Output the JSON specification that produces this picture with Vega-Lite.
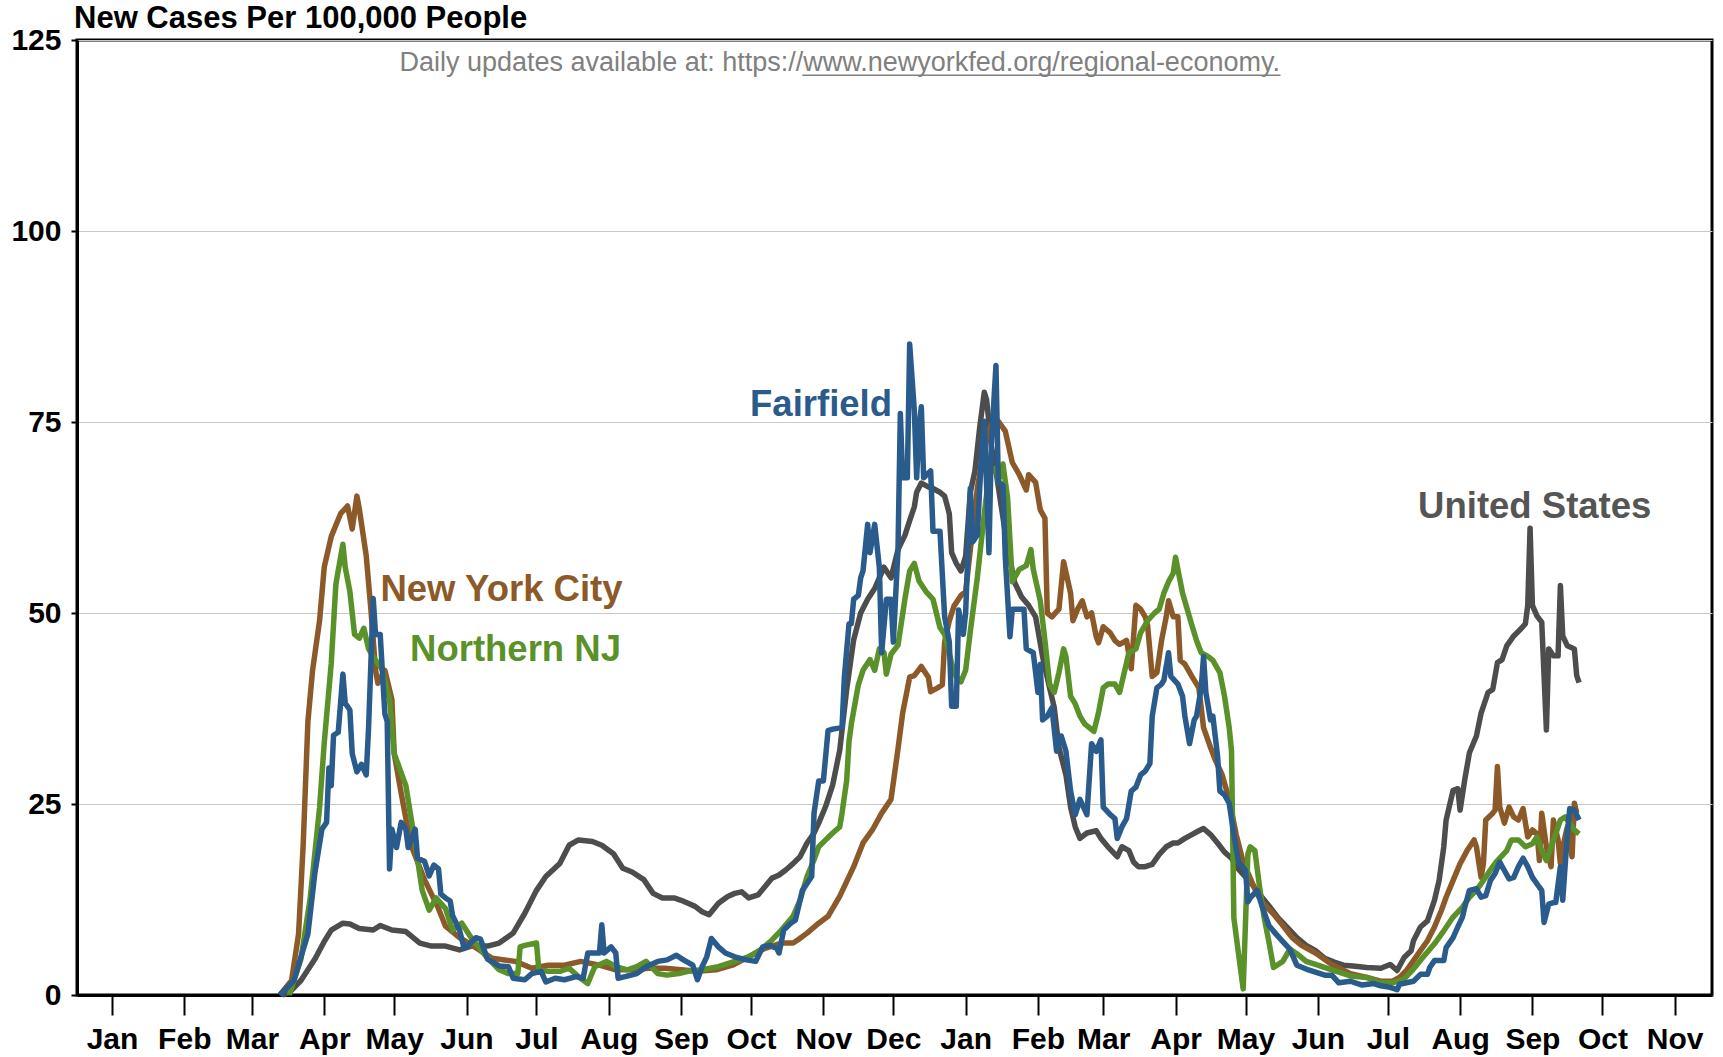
{
  "$schema": "https://vega.github.io/schema/vega-lite/v6.json",
  "width": 1635,
  "height": 955,
  "autosize": {"type": "none"},
  "padding": {"left": 77, "top": 40, "right": 11, "bottom": 62},
  "background": "white",
  "title": {"text": "New Cases Per 100,000 People", "anchor": "start", "frame": "group", "font": "Liberation Sans", "fontSize": 31, "fontWeight": "bold", "color": "black", "offset": -10, "dx": -3},
  "config": {
    "view": {"stroke": "black", "strokeWidth": 3},
    "axis": {"labelFont": "Liberation Sans", "labelFontWeight": "bold", "labelColor": "black", "domainColor": "black", "domainWidth": 3, "tickColor": "black", "tickWidth": 2, "title": null}
  },
  "data": {"values": [
    {"s":"US","d":"2020-03-14","v":0},{"s":"US","d":"2020-03-17","v":0.3},{"s":"US","d":"2020-03-22","v":1.9},{"s":"US","d":"2020-03-28","v":4.7},{"s":"US","d":"2020-04-01","v":7},{"s":"US","d":"2020-04-04","v":8.5},{"s":"US","d":"2020-04-09","v":9.4},{"s":"US","d":"2020-04-12","v":9.3},{"s":"US","d":"2020-04-16","v":8.7},{"s":"US","d":"2020-04-22","v":8.5},{"s":"US","d":"2020-04-25","v":9.1},{"s":"US","d":"2020-04-30","v":8.5},{"s":"US","d":"2020-05-06","v":8.3},{"s":"US","d":"2020-05-12","v":6.8},{"s":"US","d":"2020-05-17","v":6.4},{"s":"US","d":"2020-05-23","v":6.4},{"s":"US","d":"2020-05-29","v":5.9},{"s":"US","d":"2020-06-03","v":6.4},{"s":"US","d":"2020-06-10","v":6.4},{"s":"US","d":"2020-06-15","v":6.8},{"s":"US","d":"2020-06-21","v":8.1},{"s":"US","d":"2020-06-26","v":10.7},{"s":"US","d":"2020-07-01","v":13.7},{"s":"US","d":"2020-07-05","v":15.5},{"s":"US","d":"2020-07-11","v":17.2},{"s":"US","d":"2020-07-15","v":19.6},{"s":"US","d":"2020-07-19","v":20.3},{"s":"US","d":"2020-07-25","v":20.1},{"s":"US","d":"2020-07-29","v":19.6},{"s":"US","d":"2020-08-03","v":18.5},{"s":"US","d":"2020-08-07","v":16.6},{"s":"US","d":"2020-08-11","v":16.1},{"s":"US","d":"2020-08-16","v":15.1},{"s":"US","d":"2020-08-20","v":13.3},{"s":"US","d":"2020-08-24","v":12.7},{"s":"US","d":"2020-08-29","v":12.7},{"s":"US","d":"2020-09-01","v":12.4},{"s":"US","d":"2020-09-04","v":12},{"s":"US","d":"2020-09-07","v":11.6},{"s":"US","d":"2020-09-10","v":10.9},{"s":"US","d":"2020-09-13","v":10.5},{"s":"US","d":"2020-09-17","v":12},{"s":"US","d":"2020-09-21","v":12.9},{"s":"US","d":"2020-09-24","v":13.3},{"s":"US","d":"2020-09-27","v":13.5},{"s":"US","d":"2020-09-30","v":12.7},{"s":"US","d":"2020-10-04","v":13.1},{"s":"US","d":"2020-10-07","v":14.2},{"s":"US","d":"2020-10-10","v":15.3},{"s":"US","d":"2020-10-13","v":15.7},{"s":"US","d":"2020-10-16","v":16.4},{"s":"US","d":"2020-10-19","v":17.2},{"s":"US","d":"2020-10-22","v":18.1},{"s":"US","d":"2020-10-25","v":19.9},{"s":"US","d":"2020-10-28","v":21.2},{"s":"US","d":"2020-10-30","v":22.5},{"s":"US","d":"2020-11-02","v":24.7},{"s":"US","d":"2020-11-05","v":27.5},{"s":"US","d":"2020-11-08","v":32},{"s":"US","d":"2020-11-11","v":40},{"s":"US","d":"2020-11-14","v":46.5},{"s":"US","d":"2020-11-17","v":50},{"s":"US","d":"2020-11-20","v":51.8},{"s":"US","d":"2020-11-23","v":53.2},{"s":"US","d":"2020-11-27","v":56},{"s":"US","d":"2020-11-30","v":54.6},{"s":"US","d":"2020-12-03","v":58.3},{"s":"US","d":"2020-12-06","v":60.2},{"s":"US","d":"2020-12-08","v":62.1},{"s":"US","d":"2020-12-10","v":63.9},{"s":"US","d":"2020-12-11","v":65.8},{"s":"US","d":"2020-12-13","v":67},{"s":"US","d":"2020-12-16","v":66.5},{"s":"US","d":"2020-12-18","v":66.3},{"s":"US","d":"2020-12-21","v":65.8},{"s":"US","d":"2020-12-23","v":65.3},{"s":"US","d":"2020-12-25","v":63},{"s":"US","d":"2020-12-26","v":57.9},{"s":"US","d":"2020-12-28","v":56.5},{"s":"US","d":"2020-12-30","v":55.5},{"s":"US","d":"2021-01-01","v":57.4},{"s":"US","d":"2021-01-03","v":65.8},{"s":"US","d":"2021-01-05","v":68.6},{"s":"US","d":"2021-01-07","v":74.2},{"s":"US","d":"2021-01-09","v":78.9},{"s":"US","d":"2021-01-10","v":77.9},{"s":"US","d":"2021-01-12","v":71.9},{"s":"US","d":"2021-01-14","v":68.6},{"s":"US","d":"2021-01-16","v":64.5},{"s":"US","d":"2021-01-19","v":58.5},{"s":"US","d":"2021-01-22","v":54},{"s":"US","d":"2021-01-25","v":52.1},{"s":"US","d":"2021-01-28","v":51},{"s":"US","d":"2021-01-31","v":49.5},{"s":"US","d":"2021-02-03","v":44.3},{"s":"US","d":"2021-02-06","v":40.2},{"s":"US","d":"2021-02-08","v":37.6},{"s":"US","d":"2021-02-10","v":32.4},{"s":"US","d":"2021-02-13","v":28.8},{"s":"US","d":"2021-02-15","v":24.6},{"s":"US","d":"2021-02-17","v":22},{"s":"US","d":"2021-02-19","v":20.5},{"s":"US","d":"2021-02-22","v":21.2},{"s":"US","d":"2021-02-26","v":21.5},{"s":"US","d":"2021-02-28","v":20.5},{"s":"US","d":"2021-03-03","v":19.4},{"s":"US","d":"2021-03-07","v":18.1},{"s":"US","d":"2021-03-09","v":19.4},{"s":"US","d":"2021-03-12","v":18.9},{"s":"US","d":"2021-03-14","v":17.4},{"s":"US","d":"2021-03-16","v":16.8},{"s":"US","d":"2021-03-19","v":16.8},{"s":"US","d":"2021-03-22","v":17.1},{"s":"US","d":"2021-03-25","v":18.4},{"s":"US","d":"2021-03-28","v":19.4},{"s":"US","d":"2021-03-31","v":19.9},{"s":"US","d":"2021-04-02","v":19.9},{"s":"US","d":"2021-04-05","v":20.5},{"s":"US","d":"2021-04-08","v":21},{"s":"US","d":"2021-04-11","v":21.5},{"s":"US","d":"2021-04-13","v":21.8},{"s":"US","d":"2021-04-16","v":21},{"s":"US","d":"2021-04-19","v":19.9},{"s":"US","d":"2021-04-22","v":18.7},{"s":"US","d":"2021-04-25","v":17.9},{"s":"US","d":"2021-04-27","v":16.8},{"s":"US","d":"2021-04-30","v":15.8},{"s":"US","d":"2021-05-03","v":14.8},{"s":"US","d":"2021-05-07","v":13.2},{"s":"US","d":"2021-05-11","v":11.7},{"s":"US","d":"2021-05-15","v":10.1},{"s":"US","d":"2021-05-20","v":8.5},{"s":"US","d":"2021-05-23","v":7.5},{"s":"US","d":"2021-05-27","v":6.5},{"s":"US","d":"2021-05-31","v":5.8},{"s":"US","d":"2021-06-04","v":4.8},{"s":"US","d":"2021-06-08","v":4.3},{"s":"US","d":"2021-06-12","v":3.9},{"s":"US","d":"2021-06-16","v":3.8},{"s":"US","d":"2021-06-22","v":3.6},{"s":"US","d":"2021-06-28","v":3.5},{"s":"US","d":"2021-07-02","v":4},{"s":"US","d":"2021-07-05","v":3.2},{"s":"US","d":"2021-07-08","v":4.9},{"s":"US","d":"2021-07-11","v":5.8},{"s":"US","d":"2021-07-12","v":7.1},{"s":"US","d":"2021-07-15","v":8.9},{"s":"US","d":"2021-07-18","v":9.7},{"s":"US","d":"2021-07-21","v":12.4},{"s":"US","d":"2021-07-23","v":15},{"s":"US","d":"2021-07-25","v":19.4},{"s":"US","d":"2021-07-26","v":22.9},{"s":"US","d":"2021-07-29","v":26.8},{"s":"US","d":"2021-07-31","v":27},{"s":"US","d":"2021-08-01","v":24.2},{"s":"US","d":"2021-08-03","v":28.2},{"s":"US","d":"2021-08-05","v":31.7},{"s":"US","d":"2021-08-08","v":33.9},{"s":"US","d":"2021-08-10","v":36.9},{"s":"US","d":"2021-08-13","v":39.6},{"s":"US","d":"2021-08-15","v":40},{"s":"US","d":"2021-08-17","v":43.5},{"s":"US","d":"2021-08-19","v":43.9},{"s":"US","d":"2021-08-21","v":45.7},{"s":"US","d":"2021-08-24","v":47},{"s":"US","d":"2021-08-27","v":47.9},{"s":"US","d":"2021-08-29","v":48.6},{"s":"US","d":"2021-08-30","v":51},{"s":"US","d":"2021-08-31","v":61.1},{"s":"US","d":"2021-09-01","v":51},{"s":"US","d":"2021-09-03","v":49.6},{"s":"US","d":"2021-09-05","v":48.8},{"s":"US","d":"2021-09-07","v":34.7},{"s":"US","d":"2021-09-08","v":45.3},{"s":"US","d":"2021-09-10","v":44.4},{"s":"US","d":"2021-09-12","v":44.4},{"s":"US","d":"2021-09-13","v":53.6},{"s":"US","d":"2021-09-14","v":47},{"s":"US","d":"2021-09-16","v":45.7},{"s":"US","d":"2021-09-19","v":45.3},{"s":"US","d":"2021-09-20","v":41.8},{"s":"US","d":"2021-09-21","v":40.9},

    {"s":"NYC","d":"2020-03-13","v":0},{"s":"NYC","d":"2020-03-18","v":1.9},{"s":"NYC","d":"2020-03-21","v":8},{"s":"NYC","d":"2020-03-23","v":19.8},{"s":"NYC","d":"2020-03-25","v":35.8},{"s":"NYC","d":"2020-03-27","v":42.5},{"s":"NYC","d":"2020-03-30","v":49},{"s":"NYC","d":"2020-04-01","v":56},{"s":"NYC","d":"2020-04-04","v":60},{"s":"NYC","d":"2020-04-08","v":63},{"s":"NYC","d":"2020-04-11","v":64},{"s":"NYC","d":"2020-04-13","v":61},{"s":"NYC","d":"2020-04-15","v":65.3},{"s":"NYC","d":"2020-04-16","v":63.7},{"s":"NYC","d":"2020-04-19","v":57.5},{"s":"NYC","d":"2020-04-21","v":50.5},{"s":"NYC","d":"2020-04-23","v":42.5},{"s":"NYC","d":"2020-04-24","v":40.8},{"s":"NYC","d":"2020-04-27","v":42.5},{"s":"NYC","d":"2020-04-30","v":38.7},{"s":"NYC","d":"2020-05-01","v":31.6},{"s":"NYC","d":"2020-05-04","v":26.4},{"s":"NYC","d":"2020-05-08","v":19.8},{"s":"NYC","d":"2020-05-14","v":15.1},{"s":"NYC","d":"2020-05-20","v":11.3},{"s":"NYC","d":"2020-05-23","v":9},{"s":"NYC","d":"2020-05-29","v":7.5},{"s":"NYC","d":"2020-06-03","v":6.6},{"s":"NYC","d":"2020-06-12","v":4.8},{"s":"NYC","d":"2020-06-22","v":4.4},{"s":"NYC","d":"2020-06-29","v":3.5},{"s":"NYC","d":"2020-07-06","v":3.9},{"s":"NYC","d":"2020-07-13","v":3.9},{"s":"NYC","d":"2020-07-20","v":4.4},{"s":"NYC","d":"2020-07-28","v":3.9},{"s":"NYC","d":"2020-08-04","v":3.3},{"s":"NYC","d":"2020-08-11","v":3.3},{"s":"NYC","d":"2020-08-18","v":3.5},{"s":"NYC","d":"2020-08-25","v":3.5},{"s":"NYC","d":"2020-09-01","v":3.3},{"s":"NYC","d":"2020-09-08","v":3.1},{"s":"NYC","d":"2020-09-16","v":3.3},{"s":"NYC","d":"2020-09-23","v":3.9},{"s":"NYC","d":"2020-09-30","v":5},{"s":"NYC","d":"2020-10-07","v":6.1},{"s":"NYC","d":"2020-10-14","v":6.8},{"s":"NYC","d":"2020-10-19","v":6.8},{"s":"NYC","d":"2020-10-21","v":7.2},{"s":"NYC","d":"2020-10-25","v":8.1},{"s":"NYC","d":"2020-10-30","v":9.4},{"s":"NYC","d":"2020-11-03","v":10.3},{"s":"NYC","d":"2020-11-08","v":12.9},{"s":"NYC","d":"2020-11-14","v":16.8},{"s":"NYC","d":"2020-11-18","v":19.9},{"s":"NYC","d":"2020-11-22","v":21.6},{"s":"NYC","d":"2020-11-26","v":23.8},{"s":"NYC","d":"2020-11-30","v":25.6},{"s":"NYC","d":"2020-12-03","v":32.2},{"s":"NYC","d":"2020-12-05","v":36.9},{"s":"NYC","d":"2020-12-08","v":41.6},{"s":"NYC","d":"2020-12-10","v":41.8},{"s":"NYC","d":"2020-12-13","v":43},{"s":"NYC","d":"2020-12-16","v":41.6},{"s":"NYC","d":"2020-12-17","v":39.7},{"s":"NYC","d":"2020-12-20","v":40.2},{"s":"NYC","d":"2020-12-22","v":40.6},{"s":"NYC","d":"2020-12-23","v":46.2},{"s":"NYC","d":"2020-12-25","v":49},{"s":"NYC","d":"2020-12-27","v":50.9},{"s":"NYC","d":"2020-12-30","v":52.3},{"s":"NYC","d":"2021-01-01","v":52.8},{"s":"NYC","d":"2021-01-03","v":58.3},{"s":"NYC","d":"2021-01-06","v":66.3},{"s":"NYC","d":"2021-01-09","v":71.9},{"s":"NYC","d":"2021-01-12","v":74.7},{"s":"NYC","d":"2021-01-15","v":75.1},{"s":"NYC","d":"2021-01-18","v":73.8},{"s":"NYC","d":"2021-01-21","v":69.7},{"s":"NYC","d":"2021-01-24","v":68.1},{"s":"NYC","d":"2021-01-27","v":66.1},{"s":"NYC","d":"2021-01-28","v":68.1},{"s":"NYC","d":"2021-01-31","v":67.1},{"s":"NYC","d":"2021-02-02","v":63.5},{"s":"NYC","d":"2021-02-04","v":62.4},{"s":"NYC","d":"2021-02-05","v":50},{"s":"NYC","d":"2021-02-07","v":49.5},{"s":"NYC","d":"2021-02-10","v":50.5},{"s":"NYC","d":"2021-02-12","v":56.7},{"s":"NYC","d":"2021-02-15","v":52.6},{"s":"NYC","d":"2021-02-16","v":49},{"s":"NYC","d":"2021-02-18","v":50.5},{"s":"NYC","d":"2021-02-20","v":51.6},{"s":"NYC","d":"2021-02-22","v":49.5},{"s":"NYC","d":"2021-02-24","v":50},{"s":"NYC","d":"2021-02-26","v":46.9},{"s":"NYC","d":"2021-02-27","v":46.1},{"s":"NYC","d":"2021-03-01","v":48.2},{"s":"NYC","d":"2021-03-04","v":47.4},{"s":"NYC","d":"2021-03-06","v":46.4},{"s":"NYC","d":"2021-03-08","v":45.9},{"s":"NYC","d":"2021-03-11","v":46.4},{"s":"NYC","d":"2021-03-13","v":42.7},{"s":"NYC","d":"2021-03-15","v":51},{"s":"NYC","d":"2021-03-17","v":50.5},{"s":"NYC","d":"2021-03-19","v":49.5},{"s":"NYC","d":"2021-03-20","v":48.4},{"s":"NYC","d":"2021-03-22","v":41.7},{"s":"NYC","d":"2021-03-24","v":42.2},{"s":"NYC","d":"2021-03-26","v":46.4},{"s":"NYC","d":"2021-03-28","v":49.5},{"s":"NYC","d":"2021-03-29","v":51.6},{"s":"NYC","d":"2021-03-31","v":49.5},{"s":"NYC","d":"2021-04-02","v":49.5},{"s":"NYC","d":"2021-04-03","v":43.8},{"s":"NYC","d":"2021-04-05","v":43.3},{"s":"NYC","d":"2021-04-08","v":41.7},{"s":"NYC","d":"2021-04-11","v":40.2},{"s":"NYC","d":"2021-04-13","v":35},{"s":"NYC","d":"2021-04-16","v":32.4},{"s":"NYC","d":"2021-04-18","v":30.8},{"s":"NYC","d":"2021-04-21","v":28.8},{"s":"NYC","d":"2021-04-24","v":25.6},{"s":"NYC","d":"2021-04-27","v":21},{"s":"NYC","d":"2021-04-30","v":17.4},{"s":"NYC","d":"2021-05-03","v":15.3},{"s":"NYC","d":"2021-05-06","v":13.2},{"s":"NYC","d":"2021-05-08","v":12.2},{"s":"NYC","d":"2021-05-13","v":10.6},{"s":"NYC","d":"2021-05-17","v":9.1},{"s":"NYC","d":"2021-05-21","v":7.5},{"s":"NYC","d":"2021-05-25","v":6.5},{"s":"NYC","d":"2021-05-31","v":5.5},{"s":"NYC","d":"2021-06-07","v":4},{"s":"NYC","d":"2021-06-15","v":2.8},{"s":"NYC","d":"2021-06-22","v":2.3},{"s":"NYC","d":"2021-06-28","v":1.8},{"s":"NYC","d":"2021-07-03","v":1.8},{"s":"NYC","d":"2021-07-06","v":2.3},{"s":"NYC","d":"2021-07-09","v":3.2},{"s":"NYC","d":"2021-07-12","v":4.5},{"s":"NYC","d":"2021-07-15","v":5.8},{"s":"NYC","d":"2021-07-18","v":7.1},{"s":"NYC","d":"2021-07-21","v":8.9},{"s":"NYC","d":"2021-07-24","v":11.1},{"s":"NYC","d":"2021-07-26","v":12.8},{"s":"NYC","d":"2021-07-29","v":15},{"s":"NYC","d":"2021-08-01","v":17.2},{"s":"NYC","d":"2021-08-04","v":18.9},{"s":"NYC","d":"2021-08-07","v":20.3},{"s":"NYC","d":"2021-08-08","v":19.4},{"s":"NYC","d":"2021-08-10","v":15.4},{"s":"NYC","d":"2021-08-11","v":17.2},{"s":"NYC","d":"2021-08-12","v":22.9},{"s":"NYC","d":"2021-08-15","v":23.8},{"s":"NYC","d":"2021-08-16","v":24.2},{"s":"NYC","d":"2021-08-17","v":29.9},{"s":"NYC","d":"2021-08-18","v":24.6},{"s":"NYC","d":"2021-08-20","v":22.5},{"s":"NYC","d":"2021-08-22","v":24.6},{"s":"NYC","d":"2021-08-24","v":23.3},{"s":"NYC","d":"2021-08-26","v":22.9},{"s":"NYC","d":"2021-08-28","v":24.4},{"s":"NYC","d":"2021-08-30","v":20.7},{"s":"NYC","d":"2021-09-01","v":21.6},{"s":"NYC","d":"2021-09-03","v":21.1},{"s":"NYC","d":"2021-09-04","v":17.6},{"s":"NYC","d":"2021-09-05","v":23.8},{"s":"NYC","d":"2021-09-07","v":19.4},{"s":"NYC","d":"2021-09-09","v":16.8},{"s":"NYC","d":"2021-09-10","v":22.9},{"s":"NYC","d":"2021-09-12","v":20.3},{"s":"NYC","d":"2021-09-13","v":17.2},{"s":"NYC","d":"2021-09-14","v":19.4},{"s":"NYC","d":"2021-09-16","v":22},{"s":"NYC","d":"2021-09-18","v":18.1},{"s":"NYC","d":"2021-09-19","v":25.1},{"s":"NYC","d":"2021-09-20","v":23.8},

    {"s":"NJ","d":"2020-03-17","v":0},{"s":"NJ","d":"2020-03-22","v":4.7},{"s":"NJ","d":"2020-03-26","v":12.7},{"s":"NJ","d":"2020-03-30","v":24.5},{"s":"NJ","d":"2020-04-01","v":33},{"s":"NJ","d":"2020-04-04","v":43.4},{"s":"NJ","d":"2020-04-06","v":53.8},{"s":"NJ","d":"2020-04-09","v":59},{"s":"NJ","d":"2020-04-10","v":56},{"s":"NJ","d":"2020-04-12","v":52.8},{"s":"NJ","d":"2020-04-14","v":47.2},{"s":"NJ","d":"2020-04-16","v":46.7},{"s":"NJ","d":"2020-04-18","v":48},{"s":"NJ","d":"2020-04-20","v":45.3},{"s":"NJ","d":"2020-04-22","v":44.3},{"s":"NJ","d":"2020-04-26","v":42.5},{"s":"NJ","d":"2020-04-29","v":38.7},{"s":"NJ","d":"2020-05-01","v":31.6},{"s":"NJ","d":"2020-05-06","v":27.4},{"s":"NJ","d":"2020-05-10","v":19.8},{"s":"NJ","d":"2020-05-13","v":13.7},{"s":"NJ","d":"2020-05-16","v":11.1},{"s":"NJ","d":"2020-05-19","v":12.7},{"s":"NJ","d":"2020-05-23","v":11.3},{"s":"NJ","d":"2020-05-26","v":8.5},{"s":"NJ","d":"2020-05-30","v":9.4},{"s":"NJ","d":"2020-06-03","v":7.5},{"s":"NJ","d":"2020-06-09","v":5.2},{"s":"NJ","d":"2020-06-15","v":3.3},{"s":"NJ","d":"2020-06-19","v":2.8},{"s":"NJ","d":"2020-06-23","v":2.8},{"s":"NJ","d":"2020-06-24","v":6.3},{"s":"NJ","d":"2020-06-26","v":6.5},{"s":"NJ","d":"2020-07-01","v":6.8},{"s":"NJ","d":"2020-07-02","v":3.3},{"s":"NJ","d":"2020-07-06","v":3.1},{"s":"NJ","d":"2020-07-11","v":3.1},{"s":"NJ","d":"2020-07-15","v":3.5},{"s":"NJ","d":"2020-07-19","v":2.4},{"s":"NJ","d":"2020-07-23","v":1.5},{"s":"NJ","d":"2020-07-26","v":3.7},{"s":"NJ","d":"2020-07-31","v":4.4},{"s":"NJ","d":"2020-08-04","v":3.7},{"s":"NJ","d":"2020-08-09","v":3.3},{"s":"NJ","d":"2020-08-13","v":3.7},{"s":"NJ","d":"2020-08-17","v":4.4},{"s":"NJ","d":"2020-08-22","v":2.8},{"s":"NJ","d":"2020-08-26","v":2.6},{"s":"NJ","d":"2020-08-31","v":2.8},{"s":"NJ","d":"2020-09-04","v":3.1},{"s":"NJ","d":"2020-09-10","v":3.3},{"s":"NJ","d":"2020-09-17","v":3.7},{"s":"NJ","d":"2020-09-24","v":4.4},{"s":"NJ","d":"2020-09-30","v":5},{"s":"NJ","d":"2020-10-05","v":5.9},{"s":"NJ","d":"2020-10-10","v":7.2},{"s":"NJ","d":"2020-10-14","v":8.5},{"s":"NJ","d":"2020-10-19","v":10.3},{"s":"NJ","d":"2020-10-22","v":12.4},{"s":"NJ","d":"2020-10-25","v":15.5},{"s":"NJ","d":"2020-10-28","v":17.7},{"s":"NJ","d":"2020-10-30","v":19.4},{"s":"NJ","d":"2020-11-02","v":20.3},{"s":"NJ","d":"2020-11-05","v":21.2},{"s":"NJ","d":"2020-11-08","v":22},{"s":"NJ","d":"2020-11-09","v":23.8},{"s":"NJ","d":"2020-11-11","v":28.1},{"s":"NJ","d":"2020-11-12","v":33.2},{"s":"NJ","d":"2020-11-13","v":35.5},{"s":"NJ","d":"2020-11-16","v":40.6},{"s":"NJ","d":"2020-11-18","v":42.5},{"s":"NJ","d":"2020-11-21","v":43.9},{"s":"NJ","d":"2020-11-23","v":42.5},{"s":"NJ","d":"2020-11-25","v":45.3},{"s":"NJ","d":"2020-11-27","v":44.8},{"s":"NJ","d":"2020-11-28","v":42},{"s":"NJ","d":"2020-11-30","v":44.6},{"s":"NJ","d":"2020-12-03","v":45.8},{"s":"NJ","d":"2020-12-06","v":51.9},{"s":"NJ","d":"2020-12-08","v":55.5},{"s":"NJ","d":"2020-12-10","v":56.5},{"s":"NJ","d":"2020-12-12","v":54.2},{"s":"NJ","d":"2020-12-15","v":52.8},{"s":"NJ","d":"2020-12-18","v":51.8},{"s":"NJ","d":"2020-12-21","v":48.1},{"s":"NJ","d":"2020-12-23","v":47.2},{"s":"NJ","d":"2020-12-26","v":43.4},{"s":"NJ","d":"2020-12-28","v":41.6},{"s":"NJ","d":"2020-12-30","v":41},{"s":"NJ","d":"2021-01-01","v":42.5},{"s":"NJ","d":"2021-01-03","v":47.6},{"s":"NJ","d":"2021-01-06","v":54.6},{"s":"NJ","d":"2021-01-09","v":63},{"s":"NJ","d":"2021-01-11","v":68.1},{"s":"NJ","d":"2021-01-14","v":69},{"s":"NJ","d":"2021-01-15","v":67.2},{"s":"NJ","d":"2021-01-17","v":69.5},{"s":"NJ","d":"2021-01-19","v":65},{"s":"NJ","d":"2021-01-21","v":54.1},{"s":"NJ","d":"2021-01-24","v":55.7},{"s":"NJ","d":"2021-01-27","v":56.2},{"s":"NJ","d":"2021-01-29","v":58.3},{"s":"NJ","d":"2021-01-30","v":55.7},{"s":"NJ","d":"2021-02-02","v":51.6},{"s":"NJ","d":"2021-02-04","v":46.4},{"s":"NJ","d":"2021-02-06","v":40.7},{"s":"NJ","d":"2021-02-08","v":39.6},{"s":"NJ","d":"2021-02-10","v":42.2},{"s":"NJ","d":"2021-02-12","v":45.3},{"s":"NJ","d":"2021-02-13","v":44.3},{"s":"NJ","d":"2021-02-15","v":39.1},{"s":"NJ","d":"2021-02-17","v":38.1},{"s":"NJ","d":"2021-02-19","v":36.5},{"s":"NJ","d":"2021-02-21","v":35.5},{"s":"NJ","d":"2021-02-23","v":35},{"s":"NJ","d":"2021-02-25","v":34.5},{"s":"NJ","d":"2021-02-27","v":37},{"s":"NJ","d":"2021-03-01","v":40.2},{"s":"NJ","d":"2021-03-03","v":40.7},{"s":"NJ","d":"2021-03-06","v":40.7},{"s":"NJ","d":"2021-03-08","v":39.6},{"s":"NJ","d":"2021-03-10","v":42.2},{"s":"NJ","d":"2021-03-12","v":44.8},{"s":"NJ","d":"2021-03-15","v":45.3},{"s":"NJ","d":"2021-03-17","v":47.4},{"s":"NJ","d":"2021-03-20","v":49},{"s":"NJ","d":"2021-03-23","v":50},{"s":"NJ","d":"2021-03-25","v":50.5},{"s":"NJ","d":"2021-03-27","v":52.6},{"s":"NJ","d":"2021-03-29","v":54.1},{"s":"NJ","d":"2021-03-31","v":55.2},{"s":"NJ","d":"2021-04-01","v":57.3},{"s":"NJ","d":"2021-04-02","v":55.7},{"s":"NJ","d":"2021-04-04","v":52.6},{"s":"NJ","d":"2021-04-06","v":50.5},{"s":"NJ","d":"2021-04-08","v":48.4},{"s":"NJ","d":"2021-04-10","v":46.4},{"s":"NJ","d":"2021-04-12","v":44.8},{"s":"NJ","d":"2021-04-15","v":44.3},{"s":"NJ","d":"2021-04-17","v":43.8},{"s":"NJ","d":"2021-04-20","v":42.2},{"s":"NJ","d":"2021-04-22","v":39.1},{"s":"NJ","d":"2021-04-24","v":35},{"s":"NJ","d":"2021-04-25","v":31.9},{"s":"NJ","d":"2021-04-26","v":10.1},{"s":"NJ","d":"2021-04-28","v":5.4},{"s":"NJ","d":"2021-04-30","v":0.8},{"s":"NJ","d":"2021-05-02","v":18.4},{"s":"NJ","d":"2021-05-03","v":19.4},{"s":"NJ","d":"2021-05-05","v":18.9},{"s":"NJ","d":"2021-05-07","v":14.2},{"s":"NJ","d":"2021-05-09","v":10.1},{"s":"NJ","d":"2021-05-11","v":7},{"s":"NJ","d":"2021-05-13","v":3.6},{"s":"NJ","d":"2021-05-17","v":4.4},{"s":"NJ","d":"2021-05-20","v":6},{"s":"NJ","d":"2021-05-23","v":5.4},{"s":"NJ","d":"2021-05-27","v":4.4},{"s":"NJ","d":"2021-05-31","v":4},{"s":"NJ","d":"2021-06-07","v":3.3},{"s":"NJ","d":"2021-06-15","v":2.5},{"s":"NJ","d":"2021-06-22","v":2.3},{"s":"NJ","d":"2021-06-28","v":1.6},{"s":"NJ","d":"2021-07-03","v":1.6},{"s":"NJ","d":"2021-07-08","v":2.1},{"s":"NJ","d":"2021-07-12","v":3.4},{"s":"NJ","d":"2021-07-16","v":4.9},{"s":"NJ","d":"2021-07-21","v":6.7},{"s":"NJ","d":"2021-07-25","v":8.4},{"s":"NJ","d":"2021-07-29","v":10.2},{"s":"NJ","d":"2021-08-02","v":11.5},{"s":"NJ","d":"2021-08-05","v":12.8},{"s":"NJ","d":"2021-08-08","v":13.7},{"s":"NJ","d":"2021-08-11","v":15},{"s":"NJ","d":"2021-08-15","v":16.8},{"s":"NJ","d":"2021-08-17","v":17.6},{"s":"NJ","d":"2021-08-21","v":18.9},{"s":"NJ","d":"2021-08-23","v":20.3},{"s":"NJ","d":"2021-08-26","v":20.3},{"s":"NJ","d":"2021-08-29","v":19.4},{"s":"NJ","d":"2021-09-01","v":19.8},{"s":"NJ","d":"2021-09-03","v":20.7},{"s":"NJ","d":"2021-09-05","v":18.9},{"s":"NJ","d":"2021-09-07","v":17.6},{"s":"NJ","d":"2021-09-09","v":19.4},{"s":"NJ","d":"2021-09-11","v":21.1},{"s":"NJ","d":"2021-09-13","v":22.9},{"s":"NJ","d":"2021-09-15","v":23.3},{"s":"NJ","d":"2021-09-17","v":22.5},{"s":"NJ","d":"2021-09-19","v":21.6},{"s":"NJ","d":"2021-09-21","v":21.1},

    {"s":"FF","d":"2020-03-13","v":0},{"s":"FF","d":"2020-03-19","v":1.9},{"s":"FF","d":"2020-03-25","v":8},{"s":"FF","d":"2020-03-28","v":16},{"s":"FF","d":"2020-03-31","v":21.7},{"s":"FF","d":"2020-04-02","v":22.6},{"s":"FF","d":"2020-04-03","v":29.7},{"s":"FF","d":"2020-04-04","v":27.4},{"s":"FF","d":"2020-04-05","v":34},{"s":"FF","d":"2020-04-07","v":34.4},{"s":"FF","d":"2020-04-09","v":42},{"s":"FF","d":"2020-04-10","v":38.2},{"s":"FF","d":"2020-04-12","v":37.3},{"s":"FF","d":"2020-04-13","v":31.6},{"s":"FF","d":"2020-04-15","v":29.2},{"s":"FF","d":"2020-04-17","v":30.2},{"s":"FF","d":"2020-04-19","v":28.8},{"s":"FF","d":"2020-04-20","v":34.9},{"s":"FF","d":"2020-04-21","v":43.4},{"s":"FF","d":"2020-04-22","v":51.9},{"s":"FF","d":"2020-04-23","v":47.2},{"s":"FF","d":"2020-04-25","v":47.2},{"s":"FF","d":"2020-04-27","v":36.8},{"s":"FF","d":"2020-04-28","v":35.8},{"s":"FF","d":"2020-04-29","v":16.5},{"s":"FF","d":"2020-04-30","v":21.7},{"s":"FF","d":"2020-05-02","v":19.3},{"s":"FF","d":"2020-05-04","v":22.6},{"s":"FF","d":"2020-05-06","v":21.7},{"s":"FF","d":"2020-05-07","v":19.3},{"s":"FF","d":"2020-05-10","v":21.7},{"s":"FF","d":"2020-05-11","v":17.9},{"s":"FF","d":"2020-05-14","v":17.5},{"s":"FF","d":"2020-05-16","v":15.6},{"s":"FF","d":"2020-05-18","v":17},{"s":"FF","d":"2020-05-20","v":16.5},{"s":"FF","d":"2020-05-21","v":13.2},{"s":"FF","d":"2020-05-23","v":12.7},{"s":"FF","d":"2020-05-25","v":12.3},{"s":"FF","d":"2020-05-26","v":10.4},{"s":"FF","d":"2020-05-29","v":8.5},{"s":"FF","d":"2020-05-31","v":6.1},{"s":"FF","d":"2020-06-02","v":6.6},{"s":"FF","d":"2020-06-05","v":7.5},{"s":"FF","d":"2020-06-07","v":7.3},{"s":"FF","d":"2020-06-10","v":4.7},{"s":"FF","d":"2020-06-15","v":3.8},{"s":"FF","d":"2020-06-19","v":3.7},{"s":"FF","d":"2020-06-21","v":2.2},{"s":"FF","d":"2020-06-26","v":2},{"s":"FF","d":"2020-06-29","v":2.8},{"s":"FF","d":"2020-07-03","v":3.1},{"s":"FF","d":"2020-07-05","v":1.7},{"s":"FF","d":"2020-07-09","v":2.2},{"s":"FF","d":"2020-07-13","v":2},{"s":"FF","d":"2020-07-18","v":2.4},{"s":"FF","d":"2020-07-21","v":2.2},{"s":"FF","d":"2020-07-23","v":5.5},{"s":"FF","d":"2020-07-28","v":5.5},{"s":"FF","d":"2020-07-29","v":9.2},{"s":"FF","d":"2020-07-30","v":5.5},{"s":"FF","d":"2020-08-02","v":6.3},{"s":"FF","d":"2020-08-04","v":5.5},{"s":"FF","d":"2020-08-05","v":2.2},{"s":"FF","d":"2020-08-08","v":2.4},{"s":"FF","d":"2020-08-13","v":2.8},{"s":"FF","d":"2020-08-17","v":3.7},{"s":"FF","d":"2020-08-22","v":4.4},{"s":"FF","d":"2020-08-26","v":4.6},{"s":"FF","d":"2020-08-30","v":5.2},{"s":"FF","d":"2020-09-02","v":4.6},{"s":"FF","d":"2020-09-06","v":3.9},{"s":"FF","d":"2020-09-08","v":2},{"s":"FF","d":"2020-09-10","v":3.7},{"s":"FF","d":"2020-09-12","v":5},{"s":"FF","d":"2020-09-14","v":7.4},{"s":"FF","d":"2020-09-17","v":6.3},{"s":"FF","d":"2020-09-20","v":5.5},{"s":"FF","d":"2020-09-24","v":5},{"s":"FF","d":"2020-09-29","v":4.6},{"s":"FF","d":"2020-10-03","v":4.4},{"s":"FF","d":"2020-10-06","v":6.3},{"s":"FF","d":"2020-10-09","v":6.5},{"s":"FF","d":"2020-10-12","v":6.1},{"s":"FF","d":"2020-10-13","v":5.5},{"s":"FF","d":"2020-10-15","v":8.5},{"s":"FF","d":"2020-10-18","v":9.4},{"s":"FF","d":"2020-10-20","v":9.8},{"s":"FF","d":"2020-10-23","v":13.7},{"s":"FF","d":"2020-10-25","v":14.6},{"s":"FF","d":"2020-10-27","v":15.5},{"s":"FF","d":"2020-10-28","v":23.8},{"s":"FF","d":"2020-10-30","v":28},{"s":"FF","d":"2020-11-01","v":28},{"s":"FF","d":"2020-11-03","v":34.6},{"s":"FF","d":"2020-11-05","v":34.8},{"s":"FF","d":"2020-11-09","v":35},{"s":"FF","d":"2020-11-10","v":41.6},{"s":"FF","d":"2020-11-12","v":48.6},{"s":"FF","d":"2020-11-13","v":48.6},{"s":"FF","d":"2020-11-14","v":51.8},{"s":"FF","d":"2020-11-16","v":52.3},{"s":"FF","d":"2020-11-17","v":54.6},{"s":"FF","d":"2020-11-18","v":55.5},{"s":"FF","d":"2020-11-20","v":61.6},{"s":"FF","d":"2020-11-21","v":57.9},{"s":"FF","d":"2020-11-23","v":61.6},{"s":"FF","d":"2020-11-25","v":56},{"s":"FF","d":"2020-11-26","v":44.8},{"s":"FF","d":"2020-11-28","v":51.8},{"s":"FF","d":"2020-11-30","v":51.8},{"s":"FF","d":"2020-12-01","v":46.2},{"s":"FF","d":"2020-12-03","v":58.3},{"s":"FF","d":"2020-12-04","v":76.1},{"s":"FF","d":"2020-12-05","v":67.7},{"s":"FF","d":"2020-12-07","v":67.7},{"s":"FF","d":"2020-12-08","v":85.2},{"s":"FF","d":"2020-12-10","v":76.5},{"s":"FF","d":"2020-12-11","v":67.7},{"s":"FF","d":"2020-12-12","v":74.2},{"s":"FF","d":"2020-12-13","v":77},{"s":"FF","d":"2020-12-14","v":67.7},{"s":"FF","d":"2020-12-17","v":68.6},{"s":"FF","d":"2020-12-18","v":60.7},{"s":"FF","d":"2020-12-21","v":60.7},{"s":"FF","d":"2020-12-23","v":49.5},{"s":"FF","d":"2020-12-25","v":46.2},{"s":"FF","d":"2020-12-26","v":37.8},{"s":"FF","d":"2020-12-28","v":37.8},{"s":"FF","d":"2020-12-29","v":50.4},{"s":"FF","d":"2020-12-31","v":47.2},{"s":"FF","d":"2021-01-01","v":50},{"s":"FF","d":"2021-01-03","v":66.3},{"s":"FF","d":"2021-01-04","v":59.3},{"s":"FF","d":"2021-01-06","v":60.2},{"s":"FF","d":"2021-01-08","v":71.9},{"s":"FF","d":"2021-01-09","v":75.1},{"s":"FF","d":"2021-01-11","v":57.9},{"s":"FF","d":"2021-01-12","v":71.9},{"s":"FF","d":"2021-01-14","v":82.4},{"s":"FF","d":"2021-01-15","v":67.2},{"s":"FF","d":"2021-01-17","v":66.7},{"s":"FF","d":"2021-01-18","v":57.3},{"s":"FF","d":"2021-01-20","v":46.9},{"s":"FF","d":"2021-01-21","v":50.5},{"s":"FF","d":"2021-01-24","v":50.5},{"s":"FF","d":"2021-01-26","v":50.5},{"s":"FF","d":"2021-01-27","v":45.3},{"s":"FF","d":"2021-01-30","v":44.8},{"s":"FF","d":"2021-02-01","v":39.6},{"s":"FF","d":"2021-02-02","v":43.3},{"s":"FF","d":"2021-02-03","v":36},{"s":"FF","d":"2021-02-05","v":36.5},{"s":"FF","d":"2021-02-07","v":37.6},{"s":"FF","d":"2021-02-09","v":31.9},{"s":"FF","d":"2021-02-11","v":33.9},{"s":"FF","d":"2021-02-13","v":31.9},{"s":"FF","d":"2021-02-15","v":26.7},{"s":"FF","d":"2021-02-17","v":23.6},{"s":"FF","d":"2021-02-19","v":25.6},{"s":"FF","d":"2021-02-22","v":23.6},{"s":"FF","d":"2021-02-24","v":32.9},{"s":"FF","d":"2021-02-26","v":31.9},{"s":"FF","d":"2021-02-28","v":33.4},{"s":"FF","d":"2021-03-01","v":24.6},{"s":"FF","d":"2021-03-04","v":23.6},{"s":"FF","d":"2021-03-06","v":23.1},{"s":"FF","d":"2021-03-07","v":20.5},{"s":"FF","d":"2021-03-09","v":22},{"s":"FF","d":"2021-03-11","v":23.1},{"s":"FF","d":"2021-03-13","v":26.7},{"s":"FF","d":"2021-03-15","v":27.2},{"s":"FF","d":"2021-03-17","v":28.8},{"s":"FF","d":"2021-03-19","v":29.3},{"s":"FF","d":"2021-03-21","v":30.3},{"s":"FF","d":"2021-03-22","v":36.5},{"s":"FF","d":"2021-03-24","v":40.2},{"s":"FF","d":"2021-03-26","v":40.7},{"s":"FF","d":"2021-03-27","v":41.2},{"s":"FF","d":"2021-03-29","v":44.8},{"s":"FF","d":"2021-03-30","v":41.7},{"s":"FF","d":"2021-04-02","v":40.7},{"s":"FF","d":"2021-04-04","v":39.1},{"s":"FF","d":"2021-04-05","v":36.5},{"s":"FF","d":"2021-04-07","v":32.9},{"s":"FF","d":"2021-04-09","v":36},{"s":"FF","d":"2021-04-10","v":36.5},{"s":"FF","d":"2021-04-12","v":40.2},{"s":"FF","d":"2021-04-13","v":44.3},{"s":"FF","d":"2021-04-14","v":39.6},{"s":"FF","d":"2021-04-16","v":36},{"s":"FF","d":"2021-04-17","v":36.5},{"s":"FF","d":"2021-04-19","v":31.3},{"s":"FF","d":"2021-04-20","v":26.7},{"s":"FF","d":"2021-04-22","v":26.2},{"s":"FF","d":"2021-04-24","v":25.1},{"s":"FF","d":"2021-04-26","v":21},{"s":"FF","d":"2021-04-28","v":17.4},{"s":"FF","d":"2021-05-01","v":16.3},{"s":"FF","d":"2021-05-02","v":12.2},{"s":"FF","d":"2021-05-03","v":12.7},{"s":"FF","d":"2021-05-06","v":13.7},{"s":"FF","d":"2021-05-08","v":11.7},{"s":"FF","d":"2021-05-11","v":9.1},{"s":"FF","d":"2021-05-14","v":8},{"s":"FF","d":"2021-05-17","v":7},{"s":"FF","d":"2021-05-20","v":6},{"s":"FF","d":"2021-05-23","v":3.9},{"s":"FF","d":"2021-05-27","v":3.4},{"s":"FF","d":"2021-05-31","v":3},{"s":"FF","d":"2021-06-04","v":2.6},{"s":"FF","d":"2021-06-07","v":2.6},{"s":"FF","d":"2021-06-10","v":1.6},{"s":"FF","d":"2021-06-15","v":1.8},{"s":"FF","d":"2021-06-20","v":1.3},{"s":"FF","d":"2021-06-25","v":1.5},{"s":"FF","d":"2021-06-28","v":1.2},{"s":"FF","d":"2021-07-02","v":1},{"s":"FF","d":"2021-07-05","v":0.7},{"s":"FF","d":"2021-07-06","v":1.4},{"s":"FF","d":"2021-07-09","v":1.6},{"s":"FF","d":"2021-07-12","v":1.8},{"s":"FF","d":"2021-07-15","v":2.7},{"s":"FF","d":"2021-07-18","v":2.7},{"s":"FF","d":"2021-07-19","v":3.6},{"s":"FF","d":"2021-07-21","v":4.5},{"s":"FF","d":"2021-07-25","v":4.5},{"s":"FF","d":"2021-07-26","v":6.2},{"s":"FF","d":"2021-07-29","v":7.5},{"s":"FF","d":"2021-07-31","v":8.9},{"s":"FF","d":"2021-08-02","v":10.2},{"s":"FF","d":"2021-08-03","v":11.5},{"s":"FF","d":"2021-08-05","v":13.7},{"s":"FF","d":"2021-08-08","v":13.9},{"s":"FF","d":"2021-08-10","v":12.8},{"s":"FF","d":"2021-08-12","v":13},{"s":"FF","d":"2021-08-14","v":15},{"s":"FF","d":"2021-08-16","v":15.9},{"s":"FF","d":"2021-08-18","v":17.4},{"s":"FF","d":"2021-08-20","v":16.3},{"s":"FF","d":"2021-08-22","v":15.2},{"s":"FF","d":"2021-08-24","v":15.4},{"s":"FF","d":"2021-08-26","v":16.8},{"s":"FF","d":"2021-08-28","v":17.9},{"s":"FF","d":"2021-08-30","v":16.8},{"s":"FF","d":"2021-09-01","v":15.4},{"s":"FF","d":"2021-09-04","v":14.1},{"s":"FF","d":"2021-09-05","v":13.7},{"s":"FF","d":"2021-09-06","v":9.5},{"s":"FF","d":"2021-09-08","v":11.9},{"s":"FF","d":"2021-09-10","v":12.1},{"s":"FF","d":"2021-09-11","v":12.1},{"s":"FF","d":"2021-09-13","v":16.8},{"s":"FF","d":"2021-09-14","v":12.4},{"s":"FF","d":"2021-09-16","v":21.1},{"s":"FF","d":"2021-09-17","v":24.4},{"s":"FF","d":"2021-09-19","v":24.2},{"s":"FF","d":"2021-09-21","v":22.9}
  ]},
  "layer": [
    {
      "mark": {"type": "line", "strokeWidth": 5.5, "strokeJoin": "round"},
      "encoding": {
        "x": {"field": "d", "type": "temporal",
              "scale": {"type": "utc", "domain": [{"year": 2019, "month": 12, "date": 17, "utc": true}, {"year": 2021, "month": 11, "date": 17, "utc": true}]},
              "axis": {"format": "%b", "tickCount": {"interval": "month", "step": 1}, "grid": false, "tickSize": 20, "labelFontSize": 30, "labelPadding": 9, "labelFlush": false, "labelOverlap": false}},
        "y": {"field": "v", "type": "quantitative",
              "scale": {"domain": [0, 125], "nice": false},
              "axis": {"values": [0, 25, 50, 75, 100, 125], "grid": true, "gridColor": "#c8c8c8", "gridWidth": 1.2, "tickSize": 6, "labelFontSize": 30, "labelPadding": 10}},
        "color": {"field": "s", "type": "nominal", "legend": null,
                  "scale": {"domain": ["US", "NYC", "NJ", "FF"], "range": ["#4d4d4d", "#8c5a28", "#5a9128", "#2a5b8d"]}}
      }
    },
    {
      "data": {"values": [{}]},
      "mark": {"type": "text", "font": "Liberation Sans", "fontSize": 27, "color": "#808080", "align": "center", "baseline": "alphabetic"},
      "encoding": {
        "x": {"datum": {"year": 2020, "month": 11, "date": 8, "utc": true}, "type": "temporal"},
        "y": {"datum": 120.9},
        "text": {"value": "Daily updates available at: https://www.newyorkfed.org/regional-economy."}
      }
    },
    {
      "data": {"values": [{}]},
      "mark": {"type": "rule", "color": "#808080", "strokeWidth": 1.5},
      "encoding": {
        "x": {"datum": {"year": 2020, "month": 10, "date": 23, "utc": true}, "type": "temporal"},
        "x2": {"datum": {"year": 2021, "month": 5, "date": 16, "utc": true}},
        "y": {"datum": 120.4}
      }
    },
    {
      "data": {"values": [{}]},
      "mark": {"type": "text", "font": "Liberation Sans", "fontSize": 36.5, "fontWeight": "bold", "color": "#8c5a28", "align": "center", "baseline": "middle"},
      "encoding": {
        "x": {"datum": {"year": 2020, "month": 6, "date": 16, "utc": true}, "type": "temporal"},
        "y": {"datum": 53},
        "text": {"value": "New York City"}
      }
    },
    {
      "data": {"values": [{}]},
      "mark": {"type": "text", "font": "Liberation Sans", "fontSize": 36.5, "fontWeight": "bold", "color": "#5a9128", "align": "center", "baseline": "middle"},
      "encoding": {
        "x": {"datum": {"year": 2020, "month": 6, "date": 22, "utc": true}, "type": "temporal"},
        "y": {"datum": 45.2},
        "text": {"value": "Northern NJ"}
      }
    },
    {
      "data": {"values": [{}]},
      "mark": {"type": "text", "font": "Liberation Sans", "fontSize": 36.5, "fontWeight": "bold", "color": "#2a5b8d", "align": "center", "baseline": "middle"},
      "encoding": {
        "x": {"datum": {"year": 2020, "month": 10, "date": 31, "utc": true}, "type": "temporal"},
        "y": {"datum": 77.2},
        "text": {"value": "Fairfield"}
      }
    },
    {
      "data": {"values": [{}]},
      "mark": {"type": "text", "font": "Liberation Sans", "fontSize": 36.5, "fontWeight": "bold", "color": "#555555", "align": "center", "baseline": "middle"},
      "encoding": {
        "x": {"datum": {"year": 2021, "month": 9, "date": 2, "utc": true}, "type": "temporal"},
        "y": {"datum": 63.9},
        "text": {"value": "United States"}
      }
    }
  ]
}
